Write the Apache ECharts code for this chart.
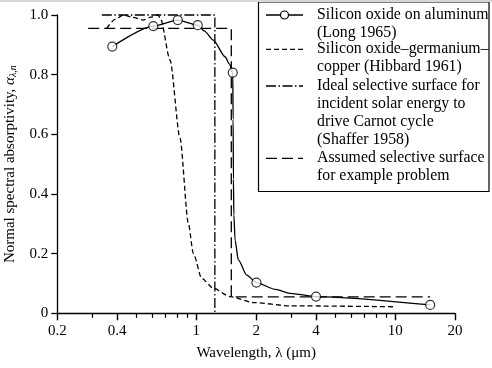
<!DOCTYPE html>
<html><head><meta charset="utf-8">
<script src="https://cdn.jsdelivr.net/npm/echarts@6/dist/echarts.min.js"></script>
<style>html,body{margin:0;padding:0;background:#fff}#c{width:492px;height:368px}</style>
</head><body><div id="c"></div>
<script>
// ---- tick values / labels ----
const xTickValues = [0.2, 0.4, 1, 2, 4, 10, 20];
const xTickLabels = ['0.2', '0.4', '1', '2', '4', '10', '20'];
const xMinorTickValues = [0.3, 0.5, 0.6, 0.7, 0.8, 0.9, 3, 5, 6, 7, 8, 9];
const yTickValues = [0, 0.2, 0.4, 0.6, 0.8, 1.0];
const yTickLabels = ['0', '0.2', '0.4', '0.6', '0.8', '1.0'];

// ---- Silicon oxide on aluminum (Long 1965): curve and measured points ----
const longCurveX = [0.378, 0.608, 0.807, 1.017, 1.1, 1.218, 1.395, 1.47, 1.525, 1.532, 1.537, 1.545, 1.567, 1.627, 1.794, 2.006, 2.5, 2.96, 4.0, 15.0];
const longCurveY = [0.894, 0.963, 0.983, 0.966, 0.946, 0.916, 0.860, 0.835, 0.807, 0.65, 0.45, 0.33, 0.245, 0.179, 0.128, 0.103, 0.080, 0.067, 0.056, 0.028];
const longMarkX = [0.378, 0.608, 0.807, 1.017, 1.525, 2.006, 4.0, 15.0];
const longMarkY = [0.894, 0.963, 0.983, 0.966, 0.807, 0.103, 0.056, 0.028];

// ---- Silicon oxide–germanium–copper (Hibbard 1961) ----
const hibbardX = [0.354, 0.39, 0.43, 0.48, 0.54, 0.59, 0.64, 0.66, 0.738, 0.828, 0.912, 0.966, 1.065, 1.218, 1.478, 1.935, 2.96, 9.8];
const hibbardY = [0.955, 0.985, 1.0, 0.992, 0.983, 0.993, 1.0, 0.99, 0.849, 0.587, 0.302, 0.201, 0.117, 0.084, 0.056, 0.036, 0.025, 0.022];

// ---- Ideal selective surface (Shaffer 1958) ----
const shafferX = [0.335, 1.24, 1.24];
const shafferY = [1.0, 1.0, 0.0];

// ---- Assumed selective surface ----
const assumedX = [0.286, 1.5, 1.5, 15];
const assumedY = [0.955, 0.955, 0.055, 0.055];

const legendLabels = [
  ['Silicon oxide on aluminum', '(Long 1965)'],
  ['Silicon oxide\u2013germanium\u2013', 'copper (Hibbard 1961)'],
  ['Ideal selective surface for', 'incident solar energy to', 'drive Carnot cycle', '(Shaffer 1958)'],
  ['Assumed selective surface', 'for example problem']
];

const FONT = "'Liberation Serif', 'Times New Roman', serif";
const zip = (xs, ys) => xs.map((x, i) => [x, ys[i]]);
const DASH_SHORT = [5, 3];
const DASH_DOT = [10, 2.5, 1.5, 2.5];
const DASH_LONG = [11, 5];

function nearestLabel(v, vals, labs) {
  let best = 0, bd = Infinity;
  vals.forEach((t, i) => { const d = Math.abs(Math.log(t) - Math.log(v)); if (d < bd) { bd = d; best = i; } });
  return labs[best];
}

const chart = echarts.init(document.getElementById('c'), null, { renderer: 'canvas' });

const legendTop = [15, 49.3, 86, 158.3];
const iconX1 = 266, iconX2 = 303, textX = 317, LH = 17.8;
const legendGraphics = [
  { type: 'rect', shape: { x: 258.5, y: 2, width: 230.5, height: 189.5 }, style: { fill: '#fff', stroke: '#000', lineWidth: 1.2 }, z: 10 },
  { type: 'rect', shape: { x: 0, y: 0, width: 492, height: 2 }, style: { fill: '#d6d6d6' }, z: 11 }
];
const iconDashes = [null, DASH_SHORT, DASH_DOT, DASH_LONG];
legendLabels.forEach((lines, i) => {
  const y = legendTop[i];
  legendGraphics.push({ type: 'line', shape: { x1: iconX1, y1: y, x2: iconX2, y2: y },
    style: { stroke: '#000', lineWidth: 1.3, lineDash: iconDashes[i] || null }, z: 11 });
  if (i === 0) {
    legendGraphics.push({ type: 'circle', shape: { cx: (iconX1 + iconX2) / 2, cy: y, r: 4 },
      style: { fill: '#fff', stroke: '#000', lineWidth: 1.2 }, z: 12 });
  }
  legendGraphics.push({ type: 'text', x: textX, y: y - LH / 2, z: 12,
    style: { text: lines.join('\n'), font: '15.8px ' + FONT, fill: '#000', lineHeight: LH, verticalAlign: 'top', align: 'left' } });
});

const option = {
  animation: false,
  backgroundColor: '#fff',
  grid: { left: 57.3, right: 37, top: 15, bottom: 54.7, containLabel: false, outerBoundsMode: 'none' },
  xAxis: [
    {
      type: 'log', logBase: 10, min: 0.2, max: 20, position: 'bottom',
      axisLine: { show: true, onZero: false, lineStyle: { color: '#000', width: 1.3 } },
      axisTick: { show: true, customValues: xTickValues, length: 7, lineStyle: { color: '#000', width: 1.4 } },
      axisLabel: { customValues: xTickValues, margin: 10, color: '#000', fontFamily: FONT, fontSize: 15,
        formatter: v => nearestLabel(v, xTickValues, xTickLabels) },
      splitLine: { show: false }, minorTick: { show: false },
      name: 'Wavelength, \u03bb (\u03bcm)', nameLocation: 'middle', nameGap: 32,
      nameTextStyle: { color: '#000', fontFamily: FONT, fontSize: 15 }
    },
    {
      type: 'log', logBase: 10, min: 0.2, max: 20, position: 'bottom',
      axisLine: { show: true, onZero: false, lineStyle: { color: 'rgba(0,0,0,0)', width: 1 } },
      axisTick: { show: true, customValues: xMinorTickValues, length: 4.5, lineStyle: { color: '#000', width: 1.2 } },
      axisLabel: { show: false }, splitLine: { show: false }
    }
  ],
  yAxis: {
    type: 'value', min: 0, max: 1, interval: 0.2,
    axisLine: { show: true, lineStyle: { color: '#000', width: 1.3 } },
    axisTick: { show: true, length: 6, lineStyle: { color: '#000', width: 1.3 } },
    axisLabel: { margin: 9, color: '#000', fontFamily: FONT, fontSize: 15,
      formatter: v => { const i = yTickValues.findIndex(t => Math.abs(t - v) < 1e-6); return i >= 0 ? yTickLabels[i] : ''; } },
    splitLine: { show: false },
    name: '{t|Normal spectral absorptivity, }{a|\u03b1}{s|\u03bb,n}',
    nameLocation: 'middle', nameGap: 37, nameRotate: 90,
    nameTextStyle: { color: '#000', fontFamily: FONT, fontSize: 15,
      rich: {
        t: { fontFamily: FONT, fontSize: 15, color: '#000', lineHeight: 16, verticalAlign: 'top' },
        a: { fontFamily: FONT, fontSize: 15, fontStyle: 'italic', color: '#000', lineHeight: 16, verticalAlign: 'top' },
        s: { fontFamily: FONT, fontSize: 10, fontStyle: 'italic', color: '#000', lineHeight: 10, verticalAlign: 'bottom', padding: [7, 0, 0, 0] }
      } }
  },
  series: [
    { name: 'Long', type: 'line', data: zip(longCurveX, longCurveY), showSymbol: false, symbol: 'none',
      smooth: 0.25, smoothMonotone: 'x', clip: false,
      lineStyle: { color: '#000', width: 1.3, type: 'solid' }, z: 3 },
    { name: 'Long points', type: 'scatter', data: zip(longMarkX, longMarkY), symbol: 'circle', symbolSize: 9,
      itemStyle: { color: '#fff', borderColor: '#000', borderWidth: 1.2 }, clip: false, z: 5 },
    { name: 'Hibbard', type: 'line', data: zip(hibbardX, hibbardY), symbol: 'none', smooth: 0.25, smoothMonotone: 'x', clip: false,
      lineStyle: { color: '#000', width: 1.3, type: DASH_SHORT }, z: 3 },
    { name: 'Shaffer', type: 'line', data: zip(shafferX, shafferY), symbol: 'none', clip: false,
      lineStyle: { color: '#000', width: 1.3, type: DASH_DOT }, z: 3 },
    { name: 'Assumed', type: 'line', data: zip(assumedX, assumedY), symbol: 'none', clip: false,
      lineStyle: { color: '#000', width: 1.3, type: DASH_LONG }, z: 3 }
  ],
  graphic: legendGraphics
};
chart.setOption(option);
</script>
</body></html>
